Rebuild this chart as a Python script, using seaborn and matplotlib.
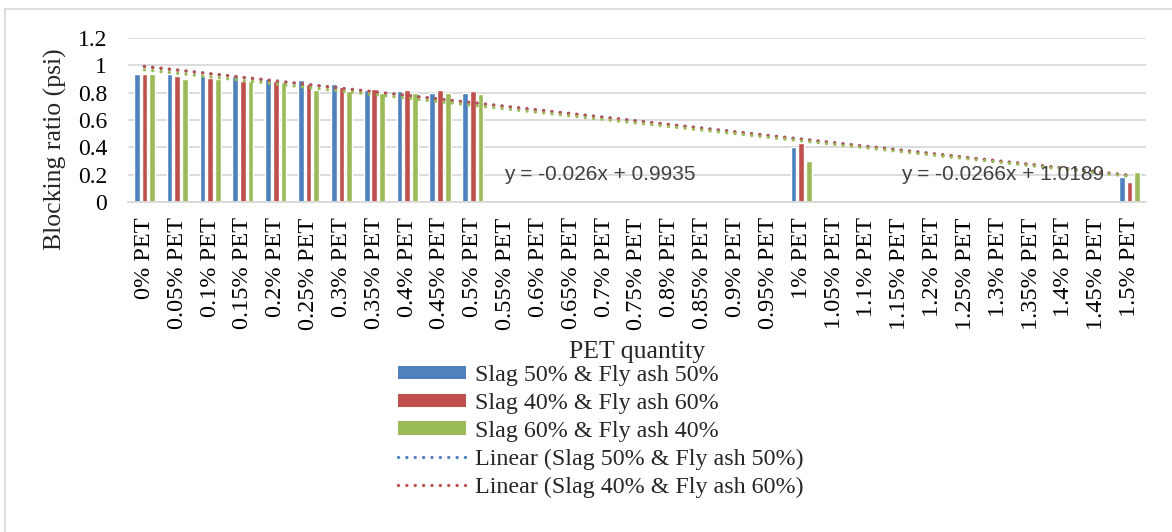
import numpy as np
import pandas as pd
import matplotlib
matplotlib.use("Agg")
import matplotlib.pyplot as plt
from matplotlib.patches import Rectangle, Patch
from matplotlib.lines import Line2D
import seaborn as sns

sns.set_theme(style="white")
plt.rcParams["font.family"] = ["Liberation Serif", "DejaVu Serif"]

nan = np.nan

categories = [
    "0% PET", "0.05% PET", "0.1% PET", "0.15% PET", "0.2% PET", "0.25% PET",
    "0.3% PET", "0.35% PET", "0.4% PET", "0.45% PET", "0.5% PET", "0.55% PET",
    "0.6% PET", "0.65% PET", "0.7% PET", "0.75% PET", "0.8% PET", "0.85% PET",
    "0.9% PET", "0.95% PET", "1% PET", "1.05% PET", "1.1% PET", "1.15% PET",
    "1.2% PET", "1.25% PET", "1.3% PET", "1.35% PET", "1.4% PET", "1.45% PET",
    "1.5% PET",
]

series_names = [
    "Slag 50% & Fly ash 50%",
    "Slag 40% & Fly ash 60%",
    "Slag 60% & Fly ash 40%",
]

slag50_fly50 = [0.94, 0.94, 0.92, 0.92, 0.90, 0.89, 0.86, 0.82, 0.81, 0.80, 0.80,
                nan, nan, nan, nan, nan, nan, nan, nan, nan,
                0.40,
                nan, nan, nan, nan, nan, nan, nan, nan, nan,
                0.18]
slag40_fly60 = [0.94, 0.92, 0.91, 0.885, 0.885, 0.86, 0.84, 0.83, 0.82, 0.82, 0.81,
                nan, nan, nan, nan, nan, nan, nan, nan, nan,
                0.43,
                nan, nan, nan, nan, nan, nan, nan, nan, nan,
                0.15]
slag60_fly40 = [0.94, 0.90, 0.90, 0.885, 0.88, 0.82, 0.81, 0.80, 0.80, 0.80, 0.79,
                nan, nan, nan, nan, nan, nan, nan, nan, nan,
                0.30,
                nan, nan, nan, nan, nan, nan, nan, nan, nan,
                0.22]

# linear trend fits (slope, intercept) over category number 1..31
trend_slopes = [-0.0266, -0.0266, -0.026]
trend_intercepts = [1.0189, 1.0180, 0.9935]
equation_labels = ["y = -0.026x + 0.9935", "y = -0.0266x + 1.0189"]

colors = ["#4F81BD", "#C0504D", "#9BBB59"]
grid_color = "#D9D9D9"
dot_style = dict(lw=2.4, dashes=(0.01, 2.5), dash_capstyle="round")

df = pd.DataFrame({
    "PET": categories * 3,
    "mix": sum([[n] * len(categories) for n in series_names], []),
    "value": slag50_fly50 + slag40_fly60 + slag60_fly40,
})

fig = plt.figure(figsize=(11.72, 5.32), dpi=100)
ax = fig.add_axes([128 / 1172, 1 - 202 / 532, (1146 - 128) / 1172, (202 - 38) / 532])

sns.barplot(data=df, x="PET", y="value", hue="mix", order=categories,
            hue_order=series_names, palette=colors, width=0.7, gap=0.25,
            saturation=1, errorbar=None, legend=False, ax=ax, zorder=2)

# dotted linear trend lines
xs = np.arange(len(categories))
for slope, icpt, c in zip(trend_slopes, trend_intercepts, colors):
    ax.plot(xs, slope * (xs + 1) + icpt, color=c, zorder=3, **dot_style)

ax.set_ylim(0, 1.2)
ax.set_xlim(-0.5, len(categories) - 0.5)
ax.set_yticks([0, 0.2, 0.4, 0.6, 0.8, 1.0, 1.2])
ax.set_yticklabels(["0", "0.2", "0.4", "0.6", "0.8", "1", "1.2"])
ax.yaxis.grid(True, color=grid_color, lw=1.3, zorder=0)
ax.set_axisbelow(True)
for side in ["top", "right", "left"]:
    ax.spines[side].set_visible(False)
ax.spines["bottom"].set_color(grid_color)
ax.spines["bottom"].set_linewidth(1.3)
ax.tick_params(axis="y", labelsize=17, length=0, pad=15, colors="black")
ax.tick_params(axis="x", labelsize=17.5, length=0, pad=11, colors="black", rotation=90)
for lbl in ax.get_xticklabels():
    lbl.set_verticalalignment("top")

ax.set_ylabel("")
ax.set_xlabel("")
fig.text(55 / 1172, 1 - 149 / 532, "Blocking ratio (psi)", rotation=90,
         ha="center", va="center", fontsize=18.5)
fig.text(637 / 1172, 1 - 352 / 532, "PET quantity", ha="center", va="center", fontsize=18.5)

# trend equations
eq_font = dict(fontsize=15, family=["Liberation Sans", "DejaVu Sans"], color="#404040", zorder=4)
ax.text(13.87, 0.2, equation_labels[0], ha="center", va="center", **eq_font)
ax.text(26.14, 0.2, equation_labels[1], ha="center", va="center", **eq_font)

handles = [Patch(facecolor=c, edgecolor="none") for c in colors]
handles += [Line2D([], [], color=colors[0], **dot_style),
            Line2D([], [], color=colors[1], **dot_style)]
labels = series_names + ["Linear (Slag 50% & Fly ash 50%)", "Linear (Slag 40% & Fly ash 60%)"]
fig.legend(handles, labels, loc="upper left", bbox_to_anchor=(398 / 1172, 1 - 365 / 532),
           frameon=False, fontsize=17.3, handlelength=2.85, handleheight=0.48,
           handletextpad=0.37, labelspacing=0.285, borderaxespad=0, borderpad=0)

# outer chart frame
fig.patches.append(Rectangle((5 / 1172, -0.1), 1.2, 1.1 - 9 / 532,
                             transform=fig.transFigure, fill=False,
                             edgecolor=grid_color, lw=1.3))

fig.savefig("out.png", dpi=100)
